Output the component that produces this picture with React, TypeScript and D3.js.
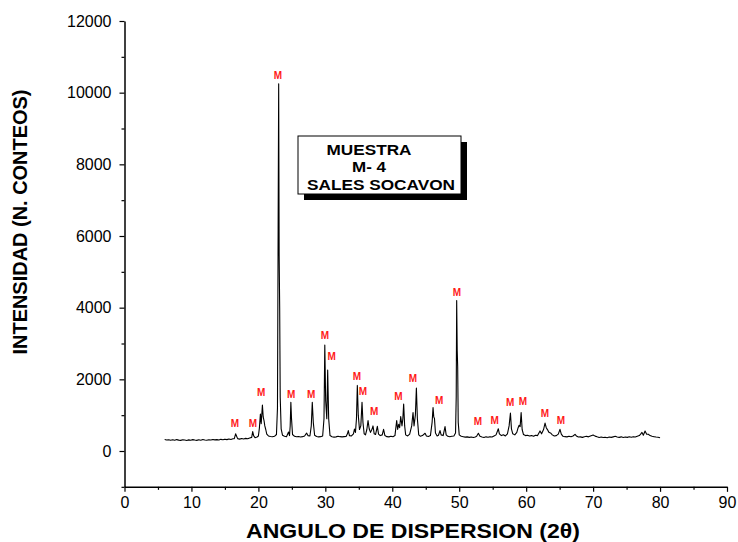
import { useEffect, useRef } from 'react';
import * as d3 from 'd3';

// XRD scan, [2theta, counts]
const scanLow = [
  [6.0, 320], [6.3, 305], [6.6, 315], [6.9, 300], [7.2, 312], [7.5, 298], [7.8, 318], [8.1, 303],
  [8.4, 296], [8.7, 314], [9.0, 305], [9.3, 292], [9.6, 310], [9.9, 300], [10.2, 318], [10.5, 305],
  [10.8, 296], [11.1, 312], [11.4, 302], [11.7, 320], [12.0, 308], [12.3, 298], [12.6, 315], [12.9, 306],
  [13.2, 322], [13.5, 310], [13.8, 318], [14.1, 305], [14.4, 325], [14.7, 315], [15.0, 330], [15.3, 318],
  [15.6, 335], [15.9, 322], [16.2, 340], [16.4, 345], [16.6, 480], [16.7, 430], [16.9, 345], [17.2, 332],
  [17.5, 348], [17.8, 336], [18.1, 352], [18.4, 340], [18.7, 362], [19.0, 380], [19.15, 540], [19.3, 420],
  [19.5, 372], [19.8, 390],
];

const scanMid = [
  [20.0, 420], [20.15, 640], [20.3, 1030], [20.42, 760], [20.6, 1280], [20.72, 950], [20.84, 850],
  [20.96, 700], [21.1, 600], [21.25, 470], [21.5, 420], [21.8, 405], [22.1, 398], [22.4, 410], [22.7, 460],
  [22.85, 1200], [22.95, 6200], [23.03, 10250], [23.1, 5500], [23.18, 3990], [23.26, 1500], [23.4, 620],
  [23.6, 440], [23.9, 410], [24.2, 400], [24.5, 530], [24.65, 430], [24.75, 700], [24.85, 1360], [24.95, 900],
  [25.1, 460], [25.4, 410], [25.7, 398], [26.0, 405], [26.3, 392], [26.6, 400], [26.9, 420], [27.2, 500],
  [27.4, 430], [27.7, 420], [27.9, 700], [28.05, 1360], [28.2, 800], [28.4, 440], [28.7, 405], [29.0, 395],
  [29.3, 400], [29.6, 420], [29.8, 900], [29.92, 2960], [30.05, 1400], [30.22, 900], [30.35, 2260],
  [30.5, 900], [30.7, 430], [31.0, 400], [31.3, 388], [31.6, 395], [31.9, 410], [32.2, 400], [32.5, 395],
  [32.8, 400], [33.1, 405], [33.3, 480], [33.43, 570], [33.6, 430], [33.9, 420], [34.2, 480], [34.35, 610],
  [34.5, 520], [34.65, 900], [34.78, 1830], [34.92, 1000], [35.1, 600], [35.3, 700], [35.48, 1360],
  [35.62, 800], [35.8, 480], [36.0, 450], [36.2, 600], [36.38, 850], [36.55, 620], [36.75, 520], [37.0, 620],
  [37.12, 700], [37.3, 480], [37.5, 460], [37.77, 690], [37.95, 470], [38.2, 430], [38.5, 450], [38.7, 605],
  [38.9, 430], [39.2, 400], [39.5, 395], [39.8, 410],
];

const scanHigh = [
  [40.1, 400], [40.4, 430], [40.66, 850], [40.8, 600], [40.96, 745], [41.1, 650], [41.26, 960], [41.45, 700],
  [41.58, 900], [41.7, 1310], [41.85, 700], [42.0, 450], [42.3, 420], [42.6, 470], [42.9, 700], [43.1, 1070],
  [43.25, 700], [43.45, 1000], [43.6, 1760], [43.75, 900], [43.95, 450], [44.2, 410], [44.5, 430], [44.9, 495],
  [45.1, 420], [45.4, 405], [45.7, 430], [45.95, 800], [46.09, 1210], [46.2, 950], [46.3, 910], [46.45, 500],
  [46.7, 420], [46.9, 440], [47.13, 570], [47.3, 450], [47.6, 430], [47.88, 680], [48.05, 450], [48.3, 410],
  [48.6, 400], [48.9, 410], [49.2, 420], [49.45, 500], [49.55, 1500], [49.62, 4200], [49.7, 2800],
  [49.77, 2350], [49.85, 800], [50.0, 450], [50.3, 410], [50.6, 400], [50.9, 388], [51.2, 395], [51.5, 380],
  [51.8, 390], [52.1, 375], [52.4, 392], [52.6, 410], [52.86, 495], [53.1, 410], [53.4, 390], [53.7, 378],
  [54.0, 395], [54.3, 385], [54.6, 400], [54.9, 390], [55.2, 420], [55.5, 450], [55.84, 620], [56.0, 480],
  [56.3, 430], [56.6, 455], [56.9, 420], [57.2, 480], [57.45, 700], [57.65, 1060], [57.8, 620], [58.0, 480],
  [58.3, 450], [58.6, 520], [58.8, 650], [58.95, 720], [59.1, 680], [59.25, 1070], [59.4, 600], [59.6, 460],
  [59.9, 430],
];

const scanTail = [
  [60.2, 440], [60.5, 420], [60.8, 430], [61.1, 410], [61.4, 440], [61.7, 430], [62.07, 560], [62.3, 480],
  [62.6, 600], [62.82, 780], [63.0, 650], [63.2, 590], [63.4, 520], [63.7, 495], [63.9, 450], [64.2, 420],
  [64.5, 430], [64.8, 470], [65.05, 605], [65.25, 470], [65.5, 410], [65.8, 400], [66.1, 395], [66.4, 410],
  [66.7, 400], [67.0, 420], [67.3, 466], [67.5, 420], [67.8, 390], [68.1, 395], [68.4, 380], [68.7, 400],
  [69.0, 410], [69.3, 395], [69.6, 420], [70.0, 447], [70.3, 415], [70.6, 395], [70.9, 378], [71.2, 390],
  [71.5, 375], [71.8, 385], [72.1, 372], [72.4, 390], [72.7, 380], [73.0, 395], [73.3, 410], [73.6, 392],
  [73.9, 380], [74.2, 395], [74.5, 378], [74.8, 392], [75.1, 380], [75.4, 398], [75.7, 385], [76.0, 400],
  [76.3, 390], [76.6, 410], [76.9, 430], [77.1, 470], [77.3, 520], [77.5, 440], [77.76, 558], [78.0, 470],
  [78.25, 466], [78.5, 430], [78.8, 410], [79.1, 400], [79.4, 390], [79.7, 385], [80.0, 372],
];

// "M" phase markers: 2theta and the count level where the letter sits
const markAngles = [16.5, 19.2, 20.4, 22.9, 24.9, 27.9, 29.95, 30.95, 34.7, 35.6, 37.3, 40.9, 43.1, 47.0,
  49.65, 52.8, 55.3, 57.6, 59.5, 62.8, 65.2];
const markCounts = [760, 760, 1620, 10470, 1590, 1590, 3210, 2630, 2070, 1650, 1090, 1510, 2010, 1420,
  4410, 810, 865, 1340, 1395, 1060, 865];

const yMajor = [0, 2000, 4000, 6000, 8000, 10000, 12000];
const yMinor = [-1000, 1000, 3000, 5000, 7000, 9000, 11000];
const xMajor = [0, 10, 20, 30, 40, 50, 60, 70, 80, 90];
const xMinor = [5, 15, 25, 35, 45, 55, 65, 75, 85];
const sampleLines = ['MUESTRA', 'M- 4', 'SALES SOCAVON'];

const font = 'Arial, "Liberation Sans", sans-serif';

const App = () => {
  const graphRef = useRef(null);

  useEffect(() => {
    const svg = d3.select(graphRef.current);
    svg.selectAll('*').remove();

    const x = d3.scaleLinear().domain([0, 90]).range([124.5, 727]);
    const y = d3.scaleLinear().domain([-1000, 12000]).range([451 + 430 / 12, 21]);

    const scan = [...scanLow, ...scanMid, ...scanHigh, ...scanTail];
    const line = d3.line().x(d => x(d[0])).y(d => y(d[1]));

    svg.append('path')
      .datum(scan)
      .attr('d', line)
      .attr('fill', 'none')
      .attr('stroke', '#000')
      .attr('stroke-width', 1.1)
      .attr('stroke-linejoin', 'round');

    // axes
    const yAxis = svg.append('g').attr('transform', `translate(${x(0)},0)`);
    yAxis.call(d3.axisLeft(y).tickValues(yMajor).tickSize(5).tickSizeOuter(0).tickPadding(8)
      .tickFormat(d3.format('d')));
    yAxis.append('g').call(d3.axisLeft(y).tickValues(yMinor).tickSize(3).tickFormat(() => ''))
      .select('.domain').remove();

    const xAxis = svg.append('g').attr('transform', `translate(0,${y(-1000)})`);
    xAxis.call(d3.axisBottom(x).tickValues(xMajor).tickSize(5).tickSizeOuter(0).tickPadding(5)
      .tickFormat(d3.format('d')));
    xAxis.append('g').call(d3.axisBottom(x).tickValues(xMinor).tickSize(3).tickFormat(() => ''))
      .select('.domain').remove();

    svg.selectAll('.domain').attr('stroke-width', 1.5);
    svg.selectAll('.tick line').attr('stroke-width', 1.2);
    svg.selectAll('.tick text')
      .attr('font-family', font)
      .attr('font-size', 16)
      .attr('fill', '#000');

    // marker letters
    svg.append('g')
      .selectAll('text')
      .data(markAngles)
      .enter()
      .append('text')
      .attr('x', d => x(d))
      .attr('y', (d, i) => y(markCounts[i]))
      .attr('dy', '0.35em')
      .attr('text-anchor', 'middle')
      .attr('font-family', font)
      .attr('font-weight', 'bold')
      .attr('font-size', 10)
      .attr('fill', '#ff1a1a')
      .text('M');

    // sample box
    const box = svg.append('g').attr('transform', 'translate(298,136)');
    box.append('rect').attr('x', 6).attr('y', 6).attr('width', 163).attr('height', 58).attr('fill', '#000');
    box.append('rect').attr('width', 163).attr('height', 58).attr('fill', '#fff')
      .attr('stroke', '#000').attr('stroke-width', 1);
    box.selectAll('text')
      .data(sampleLines)
      .enter()
      .append('text')
      .attr('x', (d, i) => (i < 2 ? 71 : 9))
      .attr('y', (d, i) => [19, 36, 54][i])
      .attr('text-anchor', (d, i) => (i < 2 ? 'middle' : 'start'))
      .attr('font-family', font)
      .attr('font-weight', 'bold')
      .attr('font-size', 14)
      .attr('textLength', (d, i) => [85, 34, 148][i])
      .attr('lengthAdjust', 'spacingAndGlyphs')
      .text(d => d);

    // axis titles
    svg.append('text')
      .attr('x', 413)
      .attr('y', 538)
      .attr('text-anchor', 'middle')
      .attr('font-family', font)
      .attr('font-weight', 'bold')
      .attr('font-size', 20)
      .attr('textLength', 334)
      .attr('lengthAdjust', 'spacingAndGlyphs')
      .text('ANGULO DE DISPERSION (2θ)');

    svg.append('text')
      .attr('transform', 'translate(27,222) rotate(-90)')
      .attr('text-anchor', 'middle')
      .attr('font-family', font)
      .attr('font-weight', 'bold')
      .attr('font-size', 20)
      .attr('textLength', 265)
      .attr('lengthAdjust', 'spacingAndGlyphs')
      .text('INTENSIDAD (N. CONTEOS)');
  }, []);

  return (
    <svg
      ref={graphRef}
      width={738}
      height={542}
      style={{ position: 'absolute', left: 0, top: 0, background: '#fff' }}
    />
  );
};

export default App;
